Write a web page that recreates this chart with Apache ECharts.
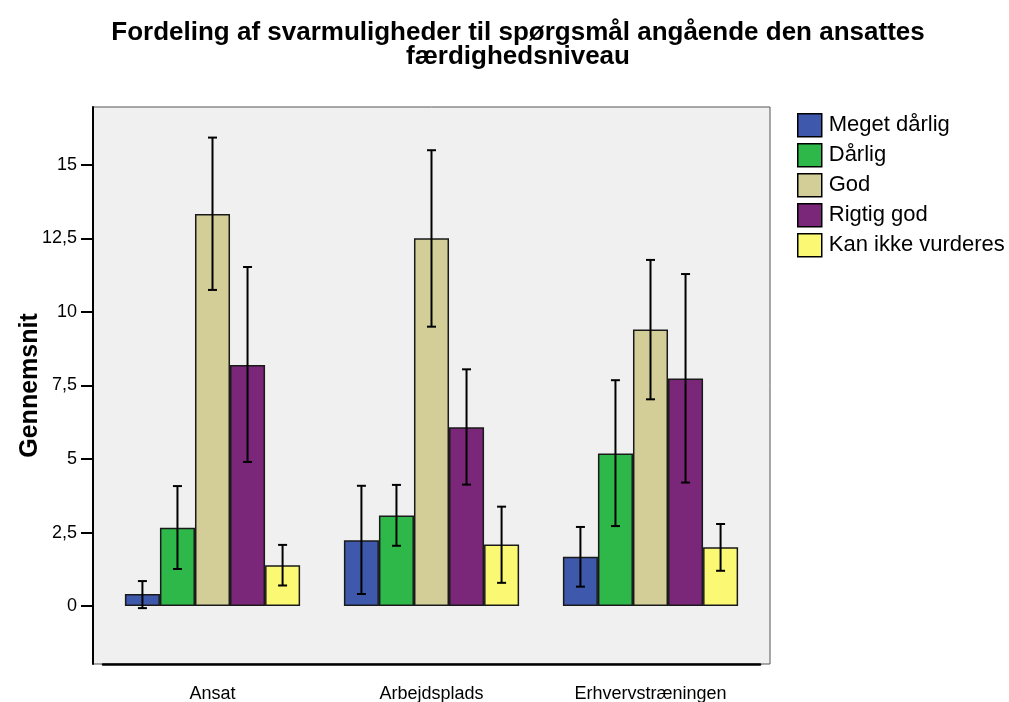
<!DOCTYPE html>
<html>
<head>
<meta charset="utf-8">
<script src="https://cdn.jsdelivr.net/npm/echarts@6/dist/echarts.min.js"></script>
<style>html,body{margin:0;padding:0;background:#fff}#c{width:1009px;height:702px}</style>
</head>
<body>
<div id="c"></div>
<script>
const categories = ['Ansat', 'Arbejdsplads', 'Erhvervstræningen'];
const seriesNames = ['Meget dårlig', 'Dårlig', 'God', 'Rigtig god', 'Kan ikke vurderes'];
const colors = ['#3e58ac', '#2fb84a', '#d3ce97', '#7a2779', '#fbf874'];
const meegetDaarlig = [0.41, 2.24, 1.68];
const daarlig = [2.66, 3.08, 5.19];
const god = [13.33, 12.51, 9.40];
const rigtigGod = [8.20, 6.08, 7.74];
const kanIkke = [1.39, 2.09, 2.00];
const means = [meegetDaarlig, daarlig, god, rigtigGod, kanIkke];
const errLow = [
  [-0.07, 0.41, 0.66],
  [1.26, 2.05, 2.72],
  [10.75, 9.50, 7.03],
  [4.90, 4.13, 4.20],
  [0.70, 0.79, 1.20]
];
const errHigh = [
  [0.85, 4.09, 2.69],
  [4.08, 4.12, 7.68],
  [15.93, 15.50, 11.77],
  [11.53, 8.05, 11.29],
  [2.08, 3.38, 2.79]
];
const yTicks = [0, 2.5, 5, 7.5, 10, 12.5, 15];

const errData = [];
for (let s = 0; s < means.length; s++) {
  for (let c = 0; c < categories.length; c++) {
    errData.push([c, errLow[s][c], errHigh[s][c], s]);
  }
}

const barSeries = seriesNames.map((n, i) => ({
  name: n,
  type: 'bar',
  data: means[i],
  barGap: '0%',
  barCategoryGap: '20%',
  itemStyle: { color: colors[i], borderColor: '#1a1a1a', borderWidth: 1.5 },
  z: 2
}));

const chart = echarts.init(document.getElementById('c'), null, { renderer: 'canvas' });
chart.setOption({
  backgroundColor: '#ffffff',
  animation: false,
  textStyle: { fontFamily: 'Liberation Sans, Arial, sans-serif' },
  title: {
    text: 'Fordeling af svarmuligheder til spørgsmål angående den ansattes\nfærdighedsniveau',
    left: 513, textAlign: 'center', top: 16,
    textStyle: { fontSize: 26, fontWeight: 'bold', color: '#000', lineHeight: 24, fontFamily: 'Liberation Sans, Arial, sans-serif' }
  },
  graphic: [{
    type: 'rect', z: -10, silent: true,
    shape: { x: 93, y: 107, width: 677, height: 557 },
    style: { fill: '#f0f0f0', stroke: '#555', lineWidth: 1 }
  }],
  legend: {
    orient: 'vertical', left: 797, top: 113,
    itemWidth: 24, itemHeight: 23, itemGap: 5.5, padding: 0,
    icon: 'rect',
    itemStyle: { borderColor: '#000', borderWidth: 1.5 },
    textStyle: { fontSize: 22, color: '#000', padding: [0, 0, 0, 2] },
    data: seriesNames
  },
  grid: { left: 103, right: 249, top: 107, bottom: 38, outerBoundsMode: 'none', containLabel: false },
  xAxis: {
    type: 'category', data: categories,
    axisLine: { onZero: false, lineStyle: { color: '#000', width: 2.5 } },
    axisTick: { alignWithLabel: true, length: 13, lineStyle: { color: '#000', width: 2 } },
    axisLabel: { fontSize: 18, color: '#000', margin: 21 }
  },
  yAxis: {
    type: 'value', min: -1.97, max: 16.97, offset: 10,
    name: 'Gennemsnit', nameLocation: 'middle', nameGap: 50, nameMoveOverlap: false,
    nameTextStyle: { fontSize: 25, fontWeight: 'bold', color: '#000' },
    axisLine: { show: true, lineStyle: { color: '#000', width: 2 } },
    axisTick: { show: true, length: 12, customValues: yTicks, lineStyle: { color: '#000', width: 2 } },
    axisLabel: { fontSize: 18, color: '#000', margin: 16, customValues: yTicks,
      formatter: v => String(v).replace('.', ',') },
    splitLine: { show: false }
  },
  series: barSeries.concat([{
    type: 'custom',
    z: 5,
    data: errData,
    encode: { x: 0, y: [1, 2] },
    renderItem: function (params, api) {
      const cat = api.value(0), s = api.value(3);
      const catW = api.size([1, 0])[0];
      const bw = catW * 0.8 / 5;
      const cx = api.coord([cat, 0])[0] + (s - 2) * bw;
      const yLo = api.coord([cat, api.value(1)])[1];
      const yHi = api.coord([cat, api.value(2)])[1];
      const cap = 4.5;
      const st = { stroke: '#000', lineWidth: 2 };
      return {
        type: 'group',
        children: [
          { type: 'line', shape: { x1: cx, y1: yHi, x2: cx, y2: yLo }, style: st },
          { type: 'line', shape: { x1: cx - cap, y1: yHi, x2: cx + cap, y2: yHi }, style: st },
          { type: 'line', shape: { x1: cx - cap, y1: yLo, x2: cx + cap, y2: yLo }, style: st }
        ]
      };
    }
  }])
});
</script>
</body>
</html>
